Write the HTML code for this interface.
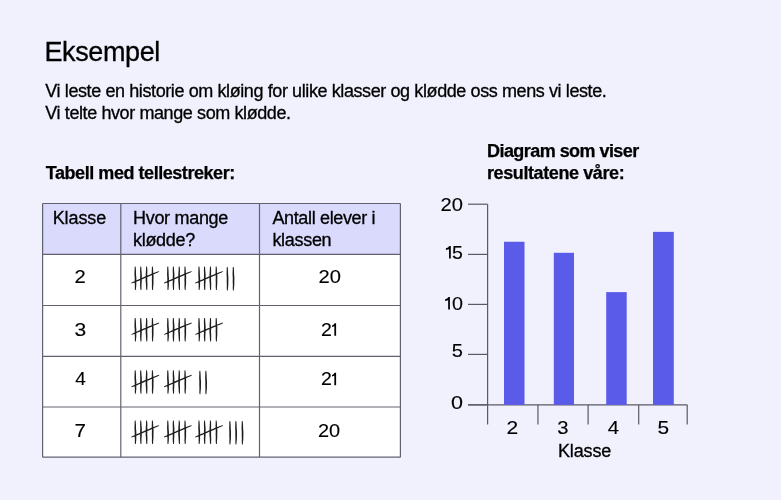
<!DOCTYPE html>
<html><head><meta charset="utf-8"><title>Eksempel</title>
<style>html,body{margin:0;padding:0;width:781px;height:500px;overflow:hidden;background:#F1F1FE;font-family:"Liberation Sans",sans-serif;}</style>
</head><body>
<svg width="781" height="500" viewBox="0 0 781 500" style="display:block;will-change:transform;font-family:'Liberation Sans',sans-serif"><rect x="0" y="0" width="781" height="500" fill="#F1F1FE"/>
<text x="44.5" y="61" font-size="27" font-weight="400" letter-spacing="-0.4" text-anchor="start" fill="#000" stroke="#000" stroke-width="0.3">Eksempel</text>
<text x="45.3" y="97" font-size="18" font-weight="400" letter-spacing="-0.4" text-anchor="start" fill="#000" stroke="#000" stroke-width="0.3">Vi leste en historie om kløing for ulike klasser og klødde oss mens vi leste.</text>
<text x="45.3" y="119" font-size="18" font-weight="400" letter-spacing="-0.4" text-anchor="start" fill="#000" stroke="#000" stroke-width="0.3">Vi telte hvor mange som klødde.</text>
<text x="45.8" y="179" font-size="18" font-weight="700" letter-spacing="-0.45" text-anchor="start" fill="#000" stroke="#000" stroke-width="0.25">Tabell med tellestreker:</text>
<text x="487" y="157" font-size="18" font-weight="700" letter-spacing="-0.55" text-anchor="start" fill="#000" stroke="#000" stroke-width="0.25">Diagram som viser</text>
<text x="487" y="179" font-size="18" font-weight="700" letter-spacing="-0.4" text-anchor="start" fill="#000" stroke="#000" stroke-width="0.25">resultatene våre:</text>
<rect x="42.6" y="254.4" width="357.79999999999995" height="202.79999999999998" fill="#fff"/>
<rect x="42.6" y="203.5" width="357.79999999999995" height="50.900000000000006" fill="#DADAFC"/>
<line x1="42.6" y1="203.5" x2="42.6" y2="457.2" stroke="#62626e" stroke-width="1.2"/>
<line x1="120.8" y1="203.5" x2="120.8" y2="457.2" stroke="#62626e" stroke-width="1.2"/>
<line x1="259.5" y1="203.5" x2="259.5" y2="457.2" stroke="#62626e" stroke-width="1.2"/>
<line x1="400.4" y1="203.5" x2="400.4" y2="457.2" stroke="#62626e" stroke-width="1.2"/>
<line x1="42.6" y1="203.5" x2="400.4" y2="203.5" stroke="#62626e" stroke-width="1.2"/>
<line x1="42.6" y1="254.4" x2="400.4" y2="254.4" stroke="#62626e" stroke-width="1.2"/>
<line x1="42.6" y1="305.5" x2="400.4" y2="305.5" stroke="#62626e" stroke-width="1.2"/>
<line x1="42.6" y1="356.3" x2="400.4" y2="356.3" stroke="#62626e" stroke-width="1.2"/>
<line x1="42.6" y1="407" x2="400.4" y2="407" stroke="#62626e" stroke-width="1.2"/>
<line x1="42.6" y1="457.2" x2="400.4" y2="457.2" stroke="#62626e" stroke-width="1.2"/>
<text x="52.7" y="224" font-size="18" font-weight="400" letter-spacing="-0.1" text-anchor="start" fill="#000" stroke="#000" stroke-width="0.3">Klasse</text>
<text x="133" y="224" font-size="18" font-weight="400" letter-spacing="-0.3" text-anchor="start" fill="#000" stroke="#000" stroke-width="0.3">Hvor mange</text>
<text x="133" y="246" font-size="18" font-weight="400" letter-spacing="-0.3" text-anchor="start" fill="#000" stroke="#000" stroke-width="0.3">klødde?</text>
<text x="272.4" y="224" font-size="18" font-weight="400" letter-spacing="-0.35" text-anchor="start" fill="#000" stroke="#000" stroke-width="0.3">Antall elever i</text>
<text x="272.4" y="246" font-size="18" font-weight="400" letter-spacing="-0.3" text-anchor="start" fill="#000" stroke="#000" stroke-width="0.3">klassen</text>
<g transform="translate(74.58 283.0) scale(1.1219 1.0)"><text x="0" y="0" font-size="18" font-weight="400" letter-spacing="0" text-anchor="start" fill="#000" stroke="#000" stroke-width="0.12">2</text></g>
<g transform="translate(318.59 283.0) scale(1.1188 1.0)"><text x="0" y="0" font-size="18" font-weight="400" letter-spacing="0" text-anchor="start" fill="#000" stroke="#000" stroke-width="0.12">20</text></g>
<g transform="translate(74.60 335.7) scale(1.1718 1.0)"><text x="0" y="0" font-size="18" font-weight="400" letter-spacing="0" text-anchor="start" fill="#000" stroke="#000" stroke-width="0.12">3</text></g>
<g transform="translate(320.92 335.7) scale(1.0853 1.0)"><text x="0" y="0" font-size="18" font-weight="400" letter-spacing="0" text-anchor="start" fill="#000" stroke="#000" stroke-width="0.12">2</text></g>
<path d="M336.10 323.20 L336.10 335.70 L334.35 335.70 L334.35 326.30 L332.00 327.10 L332.00 325.40 Q333.75 324.90 334.65 323.20 Z" fill="#000"/>
<g transform="translate(75.16 385.2) scale(1.0584 1.0)"><text x="0" y="0" font-size="18" font-weight="400" letter-spacing="0" text-anchor="start" fill="#000" stroke="#000" stroke-width="0.12">4</text></g>
<g transform="translate(320.92 385.2) scale(1.0853 1.0)"><text x="0" y="0" font-size="18" font-weight="400" letter-spacing="0" text-anchor="start" fill="#000" stroke="#000" stroke-width="0.12">2</text></g>
<path d="M336.10 372.70 L336.10 385.20 L334.35 385.20 L334.35 375.80 L332.00 376.60 L332.00 374.90 Q333.75 374.40 334.65 372.70 Z" fill="#000"/>
<g transform="translate(74.54 436.6) scale(1.1488 1.0)"><text x="0" y="0" font-size="18" font-weight="400" letter-spacing="0" text-anchor="start" fill="#000" stroke="#000" stroke-width="0.12">7</text></g>
<g transform="translate(318.00 436.6) scale(1.1079 1.0)"><text x="0" y="0" font-size="18" font-weight="400" letter-spacing="0" text-anchor="start" fill="#000" stroke="#000" stroke-width="0.12">20</text></g>
<g fill="#1c1c1c"><path transform="translate(135.3 266.5)" d="M-0.47 0.00 L-0.70 1.69 L-0.72 3.38 L-0.74 5.06 L-0.82 6.75 L-0.83 8.44 L-0.71 10.12 L-0.60 11.81 L-0.59 13.49 L-0.61 15.18 L-0.54 16.86 L-0.44 18.55 L-0.45 20.23 L-0.49 21.92 L-0.33 23.60 L0.47 23.60 L0.66 21.91 L0.86 20.22 L1.00 18.54 L1.00 16.85 L0.99 15.16 L1.05 13.48 L1.05 11.79 L0.92 10.11 L0.77 8.42 L0.72 6.74 L0.70 5.05 L0.60 3.37 L0.45 1.68 L0.33 -0.00Z M5.04 0.00 L4.91 1.69 L4.81 3.38 L4.81 5.06 L4.91 6.75 L4.94 8.43 L4.86 10.12 L4.80 11.81 L4.84 13.49 L4.87 15.18 L4.81 16.86 L4.77 18.55 L4.88 20.24 L5.07 21.92 L5.26 23.60 L6.06 23.60 L6.21 21.91 L6.20 20.22 L6.21 18.54 L6.34 16.85 L6.47 15.16 L6.48 13.48 L6.45 11.79 L6.50 10.11 L6.54 8.42 L6.44 6.74 L6.25 5.05 L6.13 3.37 L6.06 1.68 L5.84 -0.00Z M10.84 0.00 L10.78 1.69 L10.74 3.38 L10.60 5.06 L10.46 6.75 L10.43 8.44 L10.44 10.12 L10.38 11.81 L10.32 13.49 L10.41 15.18 L10.58 16.86 L10.69 18.55 L10.74 20.23 L10.88 21.92 L11.16 23.60 L11.96 23.60 L12.02 21.91 L12.05 20.22 L12.13 18.54 L12.12 16.85 L12.01 15.17 L11.96 13.48 L12.03 11.79 L12.08 10.11 L12.03 8.42 L11.99 6.74 L12.04 5.05 L12.06 3.36 L11.92 1.68 L11.64 -0.00Z M16.65 0.00 L16.56 1.69 L16.52 3.38 L16.44 5.06 L16.44 6.75 L16.55 8.43 L16.63 10.12 L16.58 11.81 L16.54 13.49 L16.60 15.18 L16.65 16.86 L16.61 18.55 L16.57 20.24 L16.68 21.92 L16.94 23.60 L17.74 23.60 L17.82 21.91 L17.88 20.22 L18.05 18.54 L18.19 16.85 L18.20 15.16 L18.18 13.48 L18.23 11.79 L18.26 10.11 L18.15 8.42 L17.97 6.74 L17.88 5.05 L17.84 3.37 L17.71 1.68 L17.45 -0.00Z M-3.75 16.96 L-1.71 16.27 L0.29 15.48 L2.29 14.68 L4.29 13.90 L6.27 13.07 L8.23 12.20 L10.20 11.34 L12.18 10.52 L14.16 9.68 L16.12 8.81 L18.09 7.93 L20.06 7.09 L22.03 6.24 L23.96 5.27 L23.68 4.63 L21.65 5.33 L19.63 6.06 L17.61 6.80 L15.62 7.61 L13.63 8.43 L11.64 9.24 L9.65 10.05 L7.69 10.92 L5.74 11.82 L3.78 12.70 L1.81 13.55 L-0.15 14.44 L-2.09 15.36 L-4.02 16.32Z"/><path transform="translate(167.9 266.5)" d="M-0.47 0.00 L-0.70 1.69 L-0.72 3.38 L-0.74 5.06 L-0.82 6.75 L-0.83 8.44 L-0.71 10.12 L-0.60 11.81 L-0.59 13.49 L-0.61 15.18 L-0.54 16.86 L-0.44 18.55 L-0.45 20.23 L-0.49 21.92 L-0.33 23.60 L0.47 23.60 L0.66 21.91 L0.86 20.22 L1.00 18.54 L1.00 16.85 L0.99 15.16 L1.05 13.48 L1.05 11.79 L0.92 10.11 L0.77 8.42 L0.72 6.74 L0.70 5.05 L0.60 3.37 L0.45 1.68 L0.33 -0.00Z M5.04 0.00 L4.91 1.69 L4.81 3.38 L4.81 5.06 L4.91 6.75 L4.94 8.43 L4.86 10.12 L4.80 11.81 L4.84 13.49 L4.87 15.18 L4.81 16.86 L4.77 18.55 L4.88 20.24 L5.07 21.92 L5.26 23.60 L6.06 23.60 L6.21 21.91 L6.20 20.22 L6.21 18.54 L6.34 16.85 L6.47 15.16 L6.48 13.48 L6.45 11.79 L6.50 10.11 L6.54 8.42 L6.44 6.74 L6.25 5.05 L6.13 3.37 L6.06 1.68 L5.84 -0.00Z M10.84 0.00 L10.78 1.69 L10.74 3.38 L10.60 5.06 L10.46 6.75 L10.43 8.44 L10.44 10.12 L10.38 11.81 L10.32 13.49 L10.41 15.18 L10.58 16.86 L10.69 18.55 L10.74 20.23 L10.88 21.92 L11.16 23.60 L11.96 23.60 L12.02 21.91 L12.05 20.22 L12.13 18.54 L12.12 16.85 L12.01 15.17 L11.96 13.48 L12.03 11.79 L12.08 10.11 L12.03 8.42 L11.99 6.74 L12.04 5.05 L12.06 3.36 L11.92 1.68 L11.64 -0.00Z M16.65 0.00 L16.56 1.69 L16.52 3.38 L16.44 5.06 L16.44 6.75 L16.55 8.43 L16.63 10.12 L16.58 11.81 L16.54 13.49 L16.60 15.18 L16.65 16.86 L16.61 18.55 L16.57 20.24 L16.68 21.92 L16.94 23.60 L17.74 23.60 L17.82 21.91 L17.88 20.22 L18.05 18.54 L18.19 16.85 L18.20 15.16 L18.18 13.48 L18.23 11.79 L18.26 10.11 L18.15 8.42 L17.97 6.74 L17.88 5.05 L17.84 3.37 L17.71 1.68 L17.45 -0.00Z M-3.75 16.96 L-1.71 16.27 L0.29 15.48 L2.29 14.68 L4.29 13.90 L6.27 13.07 L8.23 12.20 L10.20 11.34 L12.18 10.52 L14.16 9.68 L16.12 8.81 L18.09 7.93 L20.06 7.09 L22.03 6.24 L23.96 5.27 L23.68 4.63 L21.65 5.33 L19.63 6.06 L17.61 6.80 L15.62 7.61 L13.63 8.43 L11.64 9.24 L9.65 10.05 L7.69 10.92 L5.74 11.82 L3.78 12.70 L1.81 13.55 L-0.15 14.44 L-2.09 15.36 L-4.02 16.32Z"/><path transform="translate(199.1 266.5)" d="M-0.47 0.00 L-0.70 1.69 L-0.72 3.38 L-0.74 5.06 L-0.82 6.75 L-0.83 8.44 L-0.71 10.12 L-0.60 11.81 L-0.59 13.49 L-0.61 15.18 L-0.54 16.86 L-0.44 18.55 L-0.45 20.23 L-0.49 21.92 L-0.33 23.60 L0.47 23.60 L0.66 21.91 L0.86 20.22 L1.00 18.54 L1.00 16.85 L0.99 15.16 L1.05 13.48 L1.05 11.79 L0.92 10.11 L0.77 8.42 L0.72 6.74 L0.70 5.05 L0.60 3.37 L0.45 1.68 L0.33 -0.00Z M5.04 0.00 L4.91 1.69 L4.81 3.38 L4.81 5.06 L4.91 6.75 L4.94 8.43 L4.86 10.12 L4.80 11.81 L4.84 13.49 L4.87 15.18 L4.81 16.86 L4.77 18.55 L4.88 20.24 L5.07 21.92 L5.26 23.60 L6.06 23.60 L6.21 21.91 L6.20 20.22 L6.21 18.54 L6.34 16.85 L6.47 15.16 L6.48 13.48 L6.45 11.79 L6.50 10.11 L6.54 8.42 L6.44 6.74 L6.25 5.05 L6.13 3.37 L6.06 1.68 L5.84 -0.00Z M10.84 0.00 L10.78 1.69 L10.74 3.38 L10.60 5.06 L10.46 6.75 L10.43 8.44 L10.44 10.12 L10.38 11.81 L10.32 13.49 L10.41 15.18 L10.58 16.86 L10.69 18.55 L10.74 20.23 L10.88 21.92 L11.16 23.60 L11.96 23.60 L12.02 21.91 L12.05 20.22 L12.13 18.54 L12.12 16.85 L12.01 15.17 L11.96 13.48 L12.03 11.79 L12.08 10.11 L12.03 8.42 L11.99 6.74 L12.04 5.05 L12.06 3.36 L11.92 1.68 L11.64 -0.00Z M16.65 0.00 L16.56 1.69 L16.52 3.38 L16.44 5.06 L16.44 6.75 L16.55 8.43 L16.63 10.12 L16.58 11.81 L16.54 13.49 L16.60 15.18 L16.65 16.86 L16.61 18.55 L16.57 20.24 L16.68 21.92 L16.94 23.60 L17.74 23.60 L17.82 21.91 L17.88 20.22 L18.05 18.54 L18.19 16.85 L18.20 15.16 L18.18 13.48 L18.23 11.79 L18.26 10.11 L18.15 8.42 L17.97 6.74 L17.88 5.05 L17.84 3.37 L17.71 1.68 L17.45 -0.00Z M-3.75 16.96 L-1.71 16.27 L0.29 15.48 L2.29 14.68 L4.29 13.90 L6.27 13.07 L8.23 12.20 L10.20 11.34 L12.18 10.52 L14.16 9.68 L16.12 8.81 L18.09 7.93 L20.06 7.09 L22.03 6.24 L23.96 5.27 L23.68 4.63 L21.65 5.33 L19.63 6.06 L17.61 6.80 L15.62 7.61 L13.63 8.43 L11.64 9.24 L9.65 10.05 L7.69 10.92 L5.74 11.82 L3.78 12.70 L1.81 13.55 L-0.15 14.44 L-2.09 15.36 L-4.02 16.32Z"/><path transform="translate(227.4 267.1)" d="M-0.54 0.00 L-0.69 1.67 L-0.71 3.35 L-0.77 5.02 L-0.84 6.69 L-0.80 8.36 L-0.67 10.03 L-0.63 11.70 L-0.68 13.37 L-0.68 15.05 L-0.59 16.72 L-0.57 18.39 L-0.63 20.06 L-0.63 21.73 L-0.41 23.40 L0.39 23.40 L0.52 21.73 L0.68 20.05 L0.87 18.38 L0.94 16.71 L0.92 15.04 L0.96 13.37 L1.02 11.70 L0.97 10.02 L0.80 8.35 L0.69 6.68 L0.67 5.01 L0.61 3.34 L0.45 1.67 L0.26 -0.00Z"/><path transform="translate(233.4 267.1)" d="M-0.54 0.00 L-0.69 1.67 L-0.71 3.35 L-0.77 5.02 L-0.84 6.69 L-0.80 8.36 L-0.67 10.03 L-0.63 11.70 L-0.68 13.37 L-0.68 15.05 L-0.59 16.72 L-0.57 18.39 L-0.63 20.06 L-0.63 21.73 L-0.41 23.40 L0.39 23.40 L0.52 21.73 L0.68 20.05 L0.87 18.38 L0.94 16.71 L0.92 15.04 L0.96 13.37 L1.02 11.70 L0.97 10.02 L0.80 8.35 L0.69 6.68 L0.67 5.01 L0.61 3.34 L0.45 1.67 L0.26 -0.00Z"/><path transform="translate(135.3 317.9)" d="M-0.47 0.00 L-0.70 1.69 L-0.72 3.38 L-0.74 5.06 L-0.82 6.75 L-0.83 8.44 L-0.71 10.12 L-0.60 11.81 L-0.59 13.49 L-0.61 15.18 L-0.54 16.86 L-0.44 18.55 L-0.45 20.23 L-0.49 21.92 L-0.33 23.60 L0.47 23.60 L0.66 21.91 L0.86 20.22 L1.00 18.54 L1.00 16.85 L0.99 15.16 L1.05 13.48 L1.05 11.79 L0.92 10.11 L0.77 8.42 L0.72 6.74 L0.70 5.05 L0.60 3.37 L0.45 1.68 L0.33 -0.00Z M5.04 0.00 L4.91 1.69 L4.81 3.38 L4.81 5.06 L4.91 6.75 L4.94 8.43 L4.86 10.12 L4.80 11.81 L4.84 13.49 L4.87 15.18 L4.81 16.86 L4.77 18.55 L4.88 20.24 L5.07 21.92 L5.26 23.60 L6.06 23.60 L6.21 21.91 L6.20 20.22 L6.21 18.54 L6.34 16.85 L6.47 15.16 L6.48 13.48 L6.45 11.79 L6.50 10.11 L6.54 8.42 L6.44 6.74 L6.25 5.05 L6.13 3.37 L6.06 1.68 L5.84 -0.00Z M10.84 0.00 L10.78 1.69 L10.74 3.38 L10.60 5.06 L10.46 6.75 L10.43 8.44 L10.44 10.12 L10.38 11.81 L10.32 13.49 L10.41 15.18 L10.58 16.86 L10.69 18.55 L10.74 20.23 L10.88 21.92 L11.16 23.60 L11.96 23.60 L12.02 21.91 L12.05 20.22 L12.13 18.54 L12.12 16.85 L12.01 15.17 L11.96 13.48 L12.03 11.79 L12.08 10.11 L12.03 8.42 L11.99 6.74 L12.04 5.05 L12.06 3.36 L11.92 1.68 L11.64 -0.00Z M16.65 0.00 L16.56 1.69 L16.52 3.38 L16.44 5.06 L16.44 6.75 L16.55 8.43 L16.63 10.12 L16.58 11.81 L16.54 13.49 L16.60 15.18 L16.65 16.86 L16.61 18.55 L16.57 20.24 L16.68 21.92 L16.94 23.60 L17.74 23.60 L17.82 21.91 L17.88 20.22 L18.05 18.54 L18.19 16.85 L18.20 15.16 L18.18 13.48 L18.23 11.79 L18.26 10.11 L18.15 8.42 L17.97 6.74 L17.88 5.05 L17.84 3.37 L17.71 1.68 L17.45 -0.00Z M-3.75 16.96 L-1.71 16.27 L0.29 15.48 L2.29 14.68 L4.29 13.90 L6.27 13.07 L8.23 12.20 L10.20 11.34 L12.18 10.52 L14.16 9.68 L16.12 8.81 L18.09 7.93 L20.06 7.09 L22.03 6.24 L23.96 5.27 L23.68 4.63 L21.65 5.33 L19.63 6.06 L17.61 6.80 L15.62 7.61 L13.63 8.43 L11.64 9.24 L9.65 10.05 L7.69 10.92 L5.74 11.82 L3.78 12.70 L1.81 13.55 L-0.15 14.44 L-2.09 15.36 L-4.02 16.32Z"/><path transform="translate(167.9 317.9)" d="M-0.47 0.00 L-0.70 1.69 L-0.72 3.38 L-0.74 5.06 L-0.82 6.75 L-0.83 8.44 L-0.71 10.12 L-0.60 11.81 L-0.59 13.49 L-0.61 15.18 L-0.54 16.86 L-0.44 18.55 L-0.45 20.23 L-0.49 21.92 L-0.33 23.60 L0.47 23.60 L0.66 21.91 L0.86 20.22 L1.00 18.54 L1.00 16.85 L0.99 15.16 L1.05 13.48 L1.05 11.79 L0.92 10.11 L0.77 8.42 L0.72 6.74 L0.70 5.05 L0.60 3.37 L0.45 1.68 L0.33 -0.00Z M5.04 0.00 L4.91 1.69 L4.81 3.38 L4.81 5.06 L4.91 6.75 L4.94 8.43 L4.86 10.12 L4.80 11.81 L4.84 13.49 L4.87 15.18 L4.81 16.86 L4.77 18.55 L4.88 20.24 L5.07 21.92 L5.26 23.60 L6.06 23.60 L6.21 21.91 L6.20 20.22 L6.21 18.54 L6.34 16.85 L6.47 15.16 L6.48 13.48 L6.45 11.79 L6.50 10.11 L6.54 8.42 L6.44 6.74 L6.25 5.05 L6.13 3.37 L6.06 1.68 L5.84 -0.00Z M10.84 0.00 L10.78 1.69 L10.74 3.38 L10.60 5.06 L10.46 6.75 L10.43 8.44 L10.44 10.12 L10.38 11.81 L10.32 13.49 L10.41 15.18 L10.58 16.86 L10.69 18.55 L10.74 20.23 L10.88 21.92 L11.16 23.60 L11.96 23.60 L12.02 21.91 L12.05 20.22 L12.13 18.54 L12.12 16.85 L12.01 15.17 L11.96 13.48 L12.03 11.79 L12.08 10.11 L12.03 8.42 L11.99 6.74 L12.04 5.05 L12.06 3.36 L11.92 1.68 L11.64 -0.00Z M16.65 0.00 L16.56 1.69 L16.52 3.38 L16.44 5.06 L16.44 6.75 L16.55 8.43 L16.63 10.12 L16.58 11.81 L16.54 13.49 L16.60 15.18 L16.65 16.86 L16.61 18.55 L16.57 20.24 L16.68 21.92 L16.94 23.60 L17.74 23.60 L17.82 21.91 L17.88 20.22 L18.05 18.54 L18.19 16.85 L18.20 15.16 L18.18 13.48 L18.23 11.79 L18.26 10.11 L18.15 8.42 L17.97 6.74 L17.88 5.05 L17.84 3.37 L17.71 1.68 L17.45 -0.00Z M-3.75 16.96 L-1.71 16.27 L0.29 15.48 L2.29 14.68 L4.29 13.90 L6.27 13.07 L8.23 12.20 L10.20 11.34 L12.18 10.52 L14.16 9.68 L16.12 8.81 L18.09 7.93 L20.06 7.09 L22.03 6.24 L23.96 5.27 L23.68 4.63 L21.65 5.33 L19.63 6.06 L17.61 6.80 L15.62 7.61 L13.63 8.43 L11.64 9.24 L9.65 10.05 L7.69 10.92 L5.74 11.82 L3.78 12.70 L1.81 13.55 L-0.15 14.44 L-2.09 15.36 L-4.02 16.32Z"/><path transform="translate(199.1 317.9)" d="M-0.47 0.00 L-0.70 1.69 L-0.72 3.38 L-0.74 5.06 L-0.82 6.75 L-0.83 8.44 L-0.71 10.12 L-0.60 11.81 L-0.59 13.49 L-0.61 15.18 L-0.54 16.86 L-0.44 18.55 L-0.45 20.23 L-0.49 21.92 L-0.33 23.60 L0.47 23.60 L0.66 21.91 L0.86 20.22 L1.00 18.54 L1.00 16.85 L0.99 15.16 L1.05 13.48 L1.05 11.79 L0.92 10.11 L0.77 8.42 L0.72 6.74 L0.70 5.05 L0.60 3.37 L0.45 1.68 L0.33 -0.00Z M5.04 0.00 L4.91 1.69 L4.81 3.38 L4.81 5.06 L4.91 6.75 L4.94 8.43 L4.86 10.12 L4.80 11.81 L4.84 13.49 L4.87 15.18 L4.81 16.86 L4.77 18.55 L4.88 20.24 L5.07 21.92 L5.26 23.60 L6.06 23.60 L6.21 21.91 L6.20 20.22 L6.21 18.54 L6.34 16.85 L6.47 15.16 L6.48 13.48 L6.45 11.79 L6.50 10.11 L6.54 8.42 L6.44 6.74 L6.25 5.05 L6.13 3.37 L6.06 1.68 L5.84 -0.00Z M10.84 0.00 L10.78 1.69 L10.74 3.38 L10.60 5.06 L10.46 6.75 L10.43 8.44 L10.44 10.12 L10.38 11.81 L10.32 13.49 L10.41 15.18 L10.58 16.86 L10.69 18.55 L10.74 20.23 L10.88 21.92 L11.16 23.60 L11.96 23.60 L12.02 21.91 L12.05 20.22 L12.13 18.54 L12.12 16.85 L12.01 15.17 L11.96 13.48 L12.03 11.79 L12.08 10.11 L12.03 8.42 L11.99 6.74 L12.04 5.05 L12.06 3.36 L11.92 1.68 L11.64 -0.00Z M16.65 0.00 L16.56 1.69 L16.52 3.38 L16.44 5.06 L16.44 6.75 L16.55 8.43 L16.63 10.12 L16.58 11.81 L16.54 13.49 L16.60 15.18 L16.65 16.86 L16.61 18.55 L16.57 20.24 L16.68 21.92 L16.94 23.60 L17.74 23.60 L17.82 21.91 L17.88 20.22 L18.05 18.54 L18.19 16.85 L18.20 15.16 L18.18 13.48 L18.23 11.79 L18.26 10.11 L18.15 8.42 L17.97 6.74 L17.88 5.05 L17.84 3.37 L17.71 1.68 L17.45 -0.00Z M-3.75 16.96 L-1.71 16.27 L0.29 15.48 L2.29 14.68 L4.29 13.90 L6.27 13.07 L8.23 12.20 L10.20 11.34 L12.18 10.52 L14.16 9.68 L16.12 8.81 L18.09 7.93 L20.06 7.09 L22.03 6.24 L23.96 5.27 L23.68 4.63 L21.65 5.33 L19.63 6.06 L17.61 6.80 L15.62 7.61 L13.63 8.43 L11.64 9.24 L9.65 10.05 L7.69 10.92 L5.74 11.82 L3.78 12.70 L1.81 13.55 L-0.15 14.44 L-2.09 15.36 L-4.02 16.32Z"/><path transform="translate(135.3 370.2)" d="M-0.47 0.00 L-0.70 1.69 L-0.72 3.38 L-0.74 5.06 L-0.82 6.75 L-0.83 8.44 L-0.71 10.12 L-0.60 11.81 L-0.59 13.49 L-0.61 15.18 L-0.54 16.86 L-0.44 18.55 L-0.45 20.23 L-0.49 21.92 L-0.33 23.60 L0.47 23.60 L0.66 21.91 L0.86 20.22 L1.00 18.54 L1.00 16.85 L0.99 15.16 L1.05 13.48 L1.05 11.79 L0.92 10.11 L0.77 8.42 L0.72 6.74 L0.70 5.05 L0.60 3.37 L0.45 1.68 L0.33 -0.00Z M5.04 0.00 L4.91 1.69 L4.81 3.38 L4.81 5.06 L4.91 6.75 L4.94 8.43 L4.86 10.12 L4.80 11.81 L4.84 13.49 L4.87 15.18 L4.81 16.86 L4.77 18.55 L4.88 20.24 L5.07 21.92 L5.26 23.60 L6.06 23.60 L6.21 21.91 L6.20 20.22 L6.21 18.54 L6.34 16.85 L6.47 15.16 L6.48 13.48 L6.45 11.79 L6.50 10.11 L6.54 8.42 L6.44 6.74 L6.25 5.05 L6.13 3.37 L6.06 1.68 L5.84 -0.00Z M10.84 0.00 L10.78 1.69 L10.74 3.38 L10.60 5.06 L10.46 6.75 L10.43 8.44 L10.44 10.12 L10.38 11.81 L10.32 13.49 L10.41 15.18 L10.58 16.86 L10.69 18.55 L10.74 20.23 L10.88 21.92 L11.16 23.60 L11.96 23.60 L12.02 21.91 L12.05 20.22 L12.13 18.54 L12.12 16.85 L12.01 15.17 L11.96 13.48 L12.03 11.79 L12.08 10.11 L12.03 8.42 L11.99 6.74 L12.04 5.05 L12.06 3.36 L11.92 1.68 L11.64 -0.00Z M16.65 0.00 L16.56 1.69 L16.52 3.38 L16.44 5.06 L16.44 6.75 L16.55 8.43 L16.63 10.12 L16.58 11.81 L16.54 13.49 L16.60 15.18 L16.65 16.86 L16.61 18.55 L16.57 20.24 L16.68 21.92 L16.94 23.60 L17.74 23.60 L17.82 21.91 L17.88 20.22 L18.05 18.54 L18.19 16.85 L18.20 15.16 L18.18 13.48 L18.23 11.79 L18.26 10.11 L18.15 8.42 L17.97 6.74 L17.88 5.05 L17.84 3.37 L17.71 1.68 L17.45 -0.00Z M-3.75 16.96 L-1.71 16.27 L0.29 15.48 L2.29 14.68 L4.29 13.90 L6.27 13.07 L8.23 12.20 L10.20 11.34 L12.18 10.52 L14.16 9.68 L16.12 8.81 L18.09 7.93 L20.06 7.09 L22.03 6.24 L23.96 5.27 L23.68 4.63 L21.65 5.33 L19.63 6.06 L17.61 6.80 L15.62 7.61 L13.63 8.43 L11.64 9.24 L9.65 10.05 L7.69 10.92 L5.74 11.82 L3.78 12.70 L1.81 13.55 L-0.15 14.44 L-2.09 15.36 L-4.02 16.32Z"/><path transform="translate(167.9 370.2)" d="M-0.47 0.00 L-0.70 1.69 L-0.72 3.38 L-0.74 5.06 L-0.82 6.75 L-0.83 8.44 L-0.71 10.12 L-0.60 11.81 L-0.59 13.49 L-0.61 15.18 L-0.54 16.86 L-0.44 18.55 L-0.45 20.23 L-0.49 21.92 L-0.33 23.60 L0.47 23.60 L0.66 21.91 L0.86 20.22 L1.00 18.54 L1.00 16.85 L0.99 15.16 L1.05 13.48 L1.05 11.79 L0.92 10.11 L0.77 8.42 L0.72 6.74 L0.70 5.05 L0.60 3.37 L0.45 1.68 L0.33 -0.00Z M5.04 0.00 L4.91 1.69 L4.81 3.38 L4.81 5.06 L4.91 6.75 L4.94 8.43 L4.86 10.12 L4.80 11.81 L4.84 13.49 L4.87 15.18 L4.81 16.86 L4.77 18.55 L4.88 20.24 L5.07 21.92 L5.26 23.60 L6.06 23.60 L6.21 21.91 L6.20 20.22 L6.21 18.54 L6.34 16.85 L6.47 15.16 L6.48 13.48 L6.45 11.79 L6.50 10.11 L6.54 8.42 L6.44 6.74 L6.25 5.05 L6.13 3.37 L6.06 1.68 L5.84 -0.00Z M10.84 0.00 L10.78 1.69 L10.74 3.38 L10.60 5.06 L10.46 6.75 L10.43 8.44 L10.44 10.12 L10.38 11.81 L10.32 13.49 L10.41 15.18 L10.58 16.86 L10.69 18.55 L10.74 20.23 L10.88 21.92 L11.16 23.60 L11.96 23.60 L12.02 21.91 L12.05 20.22 L12.13 18.54 L12.12 16.85 L12.01 15.17 L11.96 13.48 L12.03 11.79 L12.08 10.11 L12.03 8.42 L11.99 6.74 L12.04 5.05 L12.06 3.36 L11.92 1.68 L11.64 -0.00Z M16.65 0.00 L16.56 1.69 L16.52 3.38 L16.44 5.06 L16.44 6.75 L16.55 8.43 L16.63 10.12 L16.58 11.81 L16.54 13.49 L16.60 15.18 L16.65 16.86 L16.61 18.55 L16.57 20.24 L16.68 21.92 L16.94 23.60 L17.74 23.60 L17.82 21.91 L17.88 20.22 L18.05 18.54 L18.19 16.85 L18.20 15.16 L18.18 13.48 L18.23 11.79 L18.26 10.11 L18.15 8.42 L17.97 6.74 L17.88 5.05 L17.84 3.37 L17.71 1.68 L17.45 -0.00Z M-3.75 16.96 L-1.71 16.27 L0.29 15.48 L2.29 14.68 L4.29 13.90 L6.27 13.07 L8.23 12.20 L10.20 11.34 L12.18 10.52 L14.16 9.68 L16.12 8.81 L18.09 7.93 L20.06 7.09 L22.03 6.24 L23.96 5.27 L23.68 4.63 L21.65 5.33 L19.63 6.06 L17.61 6.80 L15.62 7.61 L13.63 8.43 L11.64 9.24 L9.65 10.05 L7.69 10.92 L5.74 11.82 L3.78 12.70 L1.81 13.55 L-0.15 14.44 L-2.09 15.36 L-4.02 16.32Z"/><path transform="translate(200.0 370.8)" d="M-0.54 0.00 L-0.69 1.67 L-0.71 3.35 L-0.77 5.02 L-0.84 6.69 L-0.80 8.36 L-0.67 10.03 L-0.63 11.70 L-0.68 13.37 L-0.68 15.05 L-0.59 16.72 L-0.57 18.39 L-0.63 20.06 L-0.63 21.73 L-0.41 23.40 L0.39 23.40 L0.52 21.73 L0.68 20.05 L0.87 18.38 L0.94 16.71 L0.92 15.04 L0.96 13.37 L1.02 11.70 L0.97 10.02 L0.80 8.35 L0.69 6.68 L0.67 5.01 L0.61 3.34 L0.45 1.67 L0.26 -0.00Z"/><path transform="translate(206.0 370.8)" d="M-0.54 0.00 L-0.69 1.67 L-0.71 3.35 L-0.77 5.02 L-0.84 6.69 L-0.80 8.36 L-0.67 10.03 L-0.63 11.70 L-0.68 13.37 L-0.68 15.05 L-0.59 16.72 L-0.57 18.39 L-0.63 20.06 L-0.63 21.73 L-0.41 23.40 L0.39 23.40 L0.52 21.73 L0.68 20.05 L0.87 18.38 L0.94 16.71 L0.92 15.04 L0.96 13.37 L1.02 11.70 L0.97 10.02 L0.80 8.35 L0.69 6.68 L0.67 5.01 L0.61 3.34 L0.45 1.67 L0.26 -0.00Z"/><path transform="translate(135.3 420.5)" d="M-0.47 0.00 L-0.70 1.69 L-0.72 3.38 L-0.74 5.06 L-0.82 6.75 L-0.83 8.44 L-0.71 10.12 L-0.60 11.81 L-0.59 13.49 L-0.61 15.18 L-0.54 16.86 L-0.44 18.55 L-0.45 20.23 L-0.49 21.92 L-0.33 23.60 L0.47 23.60 L0.66 21.91 L0.86 20.22 L1.00 18.54 L1.00 16.85 L0.99 15.16 L1.05 13.48 L1.05 11.79 L0.92 10.11 L0.77 8.42 L0.72 6.74 L0.70 5.05 L0.60 3.37 L0.45 1.68 L0.33 -0.00Z M5.04 0.00 L4.91 1.69 L4.81 3.38 L4.81 5.06 L4.91 6.75 L4.94 8.43 L4.86 10.12 L4.80 11.81 L4.84 13.49 L4.87 15.18 L4.81 16.86 L4.77 18.55 L4.88 20.24 L5.07 21.92 L5.26 23.60 L6.06 23.60 L6.21 21.91 L6.20 20.22 L6.21 18.54 L6.34 16.85 L6.47 15.16 L6.48 13.48 L6.45 11.79 L6.50 10.11 L6.54 8.42 L6.44 6.74 L6.25 5.05 L6.13 3.37 L6.06 1.68 L5.84 -0.00Z M10.84 0.00 L10.78 1.69 L10.74 3.38 L10.60 5.06 L10.46 6.75 L10.43 8.44 L10.44 10.12 L10.38 11.81 L10.32 13.49 L10.41 15.18 L10.58 16.86 L10.69 18.55 L10.74 20.23 L10.88 21.92 L11.16 23.60 L11.96 23.60 L12.02 21.91 L12.05 20.22 L12.13 18.54 L12.12 16.85 L12.01 15.17 L11.96 13.48 L12.03 11.79 L12.08 10.11 L12.03 8.42 L11.99 6.74 L12.04 5.05 L12.06 3.36 L11.92 1.68 L11.64 -0.00Z M16.65 0.00 L16.56 1.69 L16.52 3.38 L16.44 5.06 L16.44 6.75 L16.55 8.43 L16.63 10.12 L16.58 11.81 L16.54 13.49 L16.60 15.18 L16.65 16.86 L16.61 18.55 L16.57 20.24 L16.68 21.92 L16.94 23.60 L17.74 23.60 L17.82 21.91 L17.88 20.22 L18.05 18.54 L18.19 16.85 L18.20 15.16 L18.18 13.48 L18.23 11.79 L18.26 10.11 L18.15 8.42 L17.97 6.74 L17.88 5.05 L17.84 3.37 L17.71 1.68 L17.45 -0.00Z M-3.75 16.96 L-1.71 16.27 L0.29 15.48 L2.29 14.68 L4.29 13.90 L6.27 13.07 L8.23 12.20 L10.20 11.34 L12.18 10.52 L14.16 9.68 L16.12 8.81 L18.09 7.93 L20.06 7.09 L22.03 6.24 L23.96 5.27 L23.68 4.63 L21.65 5.33 L19.63 6.06 L17.61 6.80 L15.62 7.61 L13.63 8.43 L11.64 9.24 L9.65 10.05 L7.69 10.92 L5.74 11.82 L3.78 12.70 L1.81 13.55 L-0.15 14.44 L-2.09 15.36 L-4.02 16.32Z"/><path transform="translate(167.9 420.5)" d="M-0.47 0.00 L-0.70 1.69 L-0.72 3.38 L-0.74 5.06 L-0.82 6.75 L-0.83 8.44 L-0.71 10.12 L-0.60 11.81 L-0.59 13.49 L-0.61 15.18 L-0.54 16.86 L-0.44 18.55 L-0.45 20.23 L-0.49 21.92 L-0.33 23.60 L0.47 23.60 L0.66 21.91 L0.86 20.22 L1.00 18.54 L1.00 16.85 L0.99 15.16 L1.05 13.48 L1.05 11.79 L0.92 10.11 L0.77 8.42 L0.72 6.74 L0.70 5.05 L0.60 3.37 L0.45 1.68 L0.33 -0.00Z M5.04 0.00 L4.91 1.69 L4.81 3.38 L4.81 5.06 L4.91 6.75 L4.94 8.43 L4.86 10.12 L4.80 11.81 L4.84 13.49 L4.87 15.18 L4.81 16.86 L4.77 18.55 L4.88 20.24 L5.07 21.92 L5.26 23.60 L6.06 23.60 L6.21 21.91 L6.20 20.22 L6.21 18.54 L6.34 16.85 L6.47 15.16 L6.48 13.48 L6.45 11.79 L6.50 10.11 L6.54 8.42 L6.44 6.74 L6.25 5.05 L6.13 3.37 L6.06 1.68 L5.84 -0.00Z M10.84 0.00 L10.78 1.69 L10.74 3.38 L10.60 5.06 L10.46 6.75 L10.43 8.44 L10.44 10.12 L10.38 11.81 L10.32 13.49 L10.41 15.18 L10.58 16.86 L10.69 18.55 L10.74 20.23 L10.88 21.92 L11.16 23.60 L11.96 23.60 L12.02 21.91 L12.05 20.22 L12.13 18.54 L12.12 16.85 L12.01 15.17 L11.96 13.48 L12.03 11.79 L12.08 10.11 L12.03 8.42 L11.99 6.74 L12.04 5.05 L12.06 3.36 L11.92 1.68 L11.64 -0.00Z M16.65 0.00 L16.56 1.69 L16.52 3.38 L16.44 5.06 L16.44 6.75 L16.55 8.43 L16.63 10.12 L16.58 11.81 L16.54 13.49 L16.60 15.18 L16.65 16.86 L16.61 18.55 L16.57 20.24 L16.68 21.92 L16.94 23.60 L17.74 23.60 L17.82 21.91 L17.88 20.22 L18.05 18.54 L18.19 16.85 L18.20 15.16 L18.18 13.48 L18.23 11.79 L18.26 10.11 L18.15 8.42 L17.97 6.74 L17.88 5.05 L17.84 3.37 L17.71 1.68 L17.45 -0.00Z M-3.75 16.96 L-1.71 16.27 L0.29 15.48 L2.29 14.68 L4.29 13.90 L6.27 13.07 L8.23 12.20 L10.20 11.34 L12.18 10.52 L14.16 9.68 L16.12 8.81 L18.09 7.93 L20.06 7.09 L22.03 6.24 L23.96 5.27 L23.68 4.63 L21.65 5.33 L19.63 6.06 L17.61 6.80 L15.62 7.61 L13.63 8.43 L11.64 9.24 L9.65 10.05 L7.69 10.92 L5.74 11.82 L3.78 12.70 L1.81 13.55 L-0.15 14.44 L-2.09 15.36 L-4.02 16.32Z"/><path transform="translate(199.1 420.5)" d="M-0.47 0.00 L-0.70 1.69 L-0.72 3.38 L-0.74 5.06 L-0.82 6.75 L-0.83 8.44 L-0.71 10.12 L-0.60 11.81 L-0.59 13.49 L-0.61 15.18 L-0.54 16.86 L-0.44 18.55 L-0.45 20.23 L-0.49 21.92 L-0.33 23.60 L0.47 23.60 L0.66 21.91 L0.86 20.22 L1.00 18.54 L1.00 16.85 L0.99 15.16 L1.05 13.48 L1.05 11.79 L0.92 10.11 L0.77 8.42 L0.72 6.74 L0.70 5.05 L0.60 3.37 L0.45 1.68 L0.33 -0.00Z M5.04 0.00 L4.91 1.69 L4.81 3.38 L4.81 5.06 L4.91 6.75 L4.94 8.43 L4.86 10.12 L4.80 11.81 L4.84 13.49 L4.87 15.18 L4.81 16.86 L4.77 18.55 L4.88 20.24 L5.07 21.92 L5.26 23.60 L6.06 23.60 L6.21 21.91 L6.20 20.22 L6.21 18.54 L6.34 16.85 L6.47 15.16 L6.48 13.48 L6.45 11.79 L6.50 10.11 L6.54 8.42 L6.44 6.74 L6.25 5.05 L6.13 3.37 L6.06 1.68 L5.84 -0.00Z M10.84 0.00 L10.78 1.69 L10.74 3.38 L10.60 5.06 L10.46 6.75 L10.43 8.44 L10.44 10.12 L10.38 11.81 L10.32 13.49 L10.41 15.18 L10.58 16.86 L10.69 18.55 L10.74 20.23 L10.88 21.92 L11.16 23.60 L11.96 23.60 L12.02 21.91 L12.05 20.22 L12.13 18.54 L12.12 16.85 L12.01 15.17 L11.96 13.48 L12.03 11.79 L12.08 10.11 L12.03 8.42 L11.99 6.74 L12.04 5.05 L12.06 3.36 L11.92 1.68 L11.64 -0.00Z M16.65 0.00 L16.56 1.69 L16.52 3.38 L16.44 5.06 L16.44 6.75 L16.55 8.43 L16.63 10.12 L16.58 11.81 L16.54 13.49 L16.60 15.18 L16.65 16.86 L16.61 18.55 L16.57 20.24 L16.68 21.92 L16.94 23.60 L17.74 23.60 L17.82 21.91 L17.88 20.22 L18.05 18.54 L18.19 16.85 L18.20 15.16 L18.18 13.48 L18.23 11.79 L18.26 10.11 L18.15 8.42 L17.97 6.74 L17.88 5.05 L17.84 3.37 L17.71 1.68 L17.45 -0.00Z M-3.75 16.96 L-1.71 16.27 L0.29 15.48 L2.29 14.68 L4.29 13.90 L6.27 13.07 L8.23 12.20 L10.20 11.34 L12.18 10.52 L14.16 9.68 L16.12 8.81 L18.09 7.93 L20.06 7.09 L22.03 6.24 L23.96 5.27 L23.68 4.63 L21.65 5.33 L19.63 6.06 L17.61 6.80 L15.62 7.61 L13.63 8.43 L11.64 9.24 L9.65 10.05 L7.69 10.92 L5.74 11.82 L3.78 12.70 L1.81 13.55 L-0.15 14.44 L-2.09 15.36 L-4.02 16.32Z"/><path transform="translate(230.0 421.1)" d="M-0.54 0.00 L-0.69 1.67 L-0.71 3.35 L-0.77 5.02 L-0.84 6.69 L-0.80 8.36 L-0.67 10.03 L-0.63 11.70 L-0.68 13.37 L-0.68 15.05 L-0.59 16.72 L-0.57 18.39 L-0.63 20.06 L-0.63 21.73 L-0.41 23.40 L0.39 23.40 L0.52 21.73 L0.68 20.05 L0.87 18.38 L0.94 16.71 L0.92 15.04 L0.96 13.37 L1.02 11.70 L0.97 10.02 L0.80 8.35 L0.69 6.68 L0.67 5.01 L0.61 3.34 L0.45 1.67 L0.26 -0.00Z"/><path transform="translate(236.0 421.1)" d="M-0.54 0.00 L-0.69 1.67 L-0.71 3.35 L-0.77 5.02 L-0.84 6.69 L-0.80 8.36 L-0.67 10.03 L-0.63 11.70 L-0.68 13.37 L-0.68 15.05 L-0.59 16.72 L-0.57 18.39 L-0.63 20.06 L-0.63 21.73 L-0.41 23.40 L0.39 23.40 L0.52 21.73 L0.68 20.05 L0.87 18.38 L0.94 16.71 L0.92 15.04 L0.96 13.37 L1.02 11.70 L0.97 10.02 L0.80 8.35 L0.69 6.68 L0.67 5.01 L0.61 3.34 L0.45 1.67 L0.26 -0.00Z"/><path transform="translate(242.4 421.1)" d="M-0.54 0.00 L-0.69 1.67 L-0.71 3.35 L-0.77 5.02 L-0.84 6.69 L-0.80 8.36 L-0.67 10.03 L-0.63 11.70 L-0.68 13.37 L-0.68 15.05 L-0.59 16.72 L-0.57 18.39 L-0.63 20.06 L-0.63 21.73 L-0.41 23.40 L0.39 23.40 L0.52 21.73 L0.68 20.05 L0.87 18.38 L0.94 16.71 L0.92 15.04 L0.96 13.37 L1.02 11.70 L0.97 10.02 L0.80 8.35 L0.69 6.68 L0.67 5.01 L0.61 3.34 L0.45 1.67 L0.26 -0.00Z"/></g>
<line x1="487.6" y1="204.2" x2="487.6" y2="424.4" stroke="#5a5a66" stroke-width="1.2"/>
<line x1="468" y1="204.2" x2="487.6" y2="204.2" stroke="#5a5a66" stroke-width="1.2"/>
<line x1="468" y1="254.4" x2="487.6" y2="254.4" stroke="#5a5a66" stroke-width="1.2"/>
<line x1="468" y1="304.4" x2="487.6" y2="304.4" stroke="#5a5a66" stroke-width="1.2"/>
<line x1="468" y1="354.4" x2="487.6" y2="354.4" stroke="#5a5a66" stroke-width="1.2"/>
<line x1="468" y1="404.85" x2="487.6" y2="404.85" stroke="#5a5a66" stroke-width="1.2"/>
<line x1="468" y1="404.85" x2="687.2" y2="404.85" stroke="#5a5a66" stroke-width="1.2"/>
<line x1="537.95" y1="404.85" x2="537.95" y2="424.4" stroke="#5a5a66" stroke-width="1.2"/>
<line x1="588.1" y1="404.85" x2="588.1" y2="424.4" stroke="#5a5a66" stroke-width="1.2"/>
<line x1="638.7" y1="404.85" x2="638.7" y2="424.4" stroke="#5a5a66" stroke-width="1.2"/>
<line x1="687.2" y1="404.85" x2="687.2" y2="424.4" stroke="#5a5a66" stroke-width="1.2"/>
<rect x="504.0" y="241.75" width="20.50" height="163.10" fill="#5B5BEA"/>
<rect x="553.8" y="252.8" width="20.20" height="152.05" fill="#5B5BEA"/>
<rect x="606.2" y="292.1" width="20.50" height="112.75" fill="#5B5BEA"/>
<rect x="653.0" y="231.85" width="20.80" height="173.00" fill="#5B5BEA"/>
<g transform="translate(440.49 211.05) scale(1.1188 1.0)"><text x="0" y="0" font-size="18" font-weight="400" letter-spacing="0" text-anchor="start" fill="#000" stroke="#000" stroke-width="0.12">20</text></g>
<path d="M450.80 246.10 L450.80 258.60 L449.05 258.60 L449.05 249.20 L445.90 250.00 L445.90 248.30 Q448.45 247.80 449.35 246.10 Z" fill="#000"/>
<g transform="translate(452.07 258.7) scale(1.0839 1.0)"><text x="0" y="0" font-size="18" font-weight="400" letter-spacing="0" text-anchor="start" fill="#000" stroke="#000" stroke-width="0.12">5</text></g>
<path d="M449.90 297.10 L449.90 309.60 L448.15 309.60 L448.15 300.20 L445.10 301.00 L445.10 299.30 Q447.55 298.80 448.45 297.10 Z" fill="#000"/>
<g transform="translate(451.99 309.7) scale(1.0971 1.0)"><text x="0" y="0" font-size="18" font-weight="400" letter-spacing="0" text-anchor="start" fill="#000" stroke="#000" stroke-width="0.12">0</text></g>
<g transform="translate(451.80 357.2) scale(1.1132 1.0)"><text x="0" y="0" font-size="18" font-weight="400" letter-spacing="0" text-anchor="start" fill="#000" stroke="#000" stroke-width="0.12">5</text></g>
<g transform="translate(450.96 408.7) scale(1.1970 1.0)"><text x="0" y="0" font-size="18" font-weight="400" letter-spacing="0" text-anchor="start" fill="#000" stroke="#000" stroke-width="0.12">0</text></g>
<g transform="translate(506.45 433.6) scale(1.1646 1.0)"><text x="0" y="0" font-size="18" font-weight="400" letter-spacing="0" text-anchor="start" fill="#000" stroke="#000" stroke-width="0.12">2</text></g>
<g transform="translate(557.33 433.6) scale(1.1249 1.0)"><text x="0" y="0" font-size="18" font-weight="400" letter-spacing="0" text-anchor="start" fill="#000" stroke="#000" stroke-width="0.12">3</text></g>
<g transform="translate(607.78 433.6) scale(1.1301 1.0)"><text x="0" y="0" font-size="18" font-weight="400" letter-spacing="0" text-anchor="start" fill="#000" stroke="#000" stroke-width="0.12">4</text></g>
<g transform="translate(657.56 433.6) scale(1.1600 1.0)"><text x="0" y="0" font-size="18" font-weight="400" letter-spacing="0" text-anchor="start" fill="#000" stroke="#000" stroke-width="0.12">5</text></g>
<text x="584.6" y="456.75" font-size="18" font-weight="400" letter-spacing="-0.15" text-anchor="middle" fill="#000" stroke="#000" stroke-width="0.3">Klasse</text></svg>
</body></html>
